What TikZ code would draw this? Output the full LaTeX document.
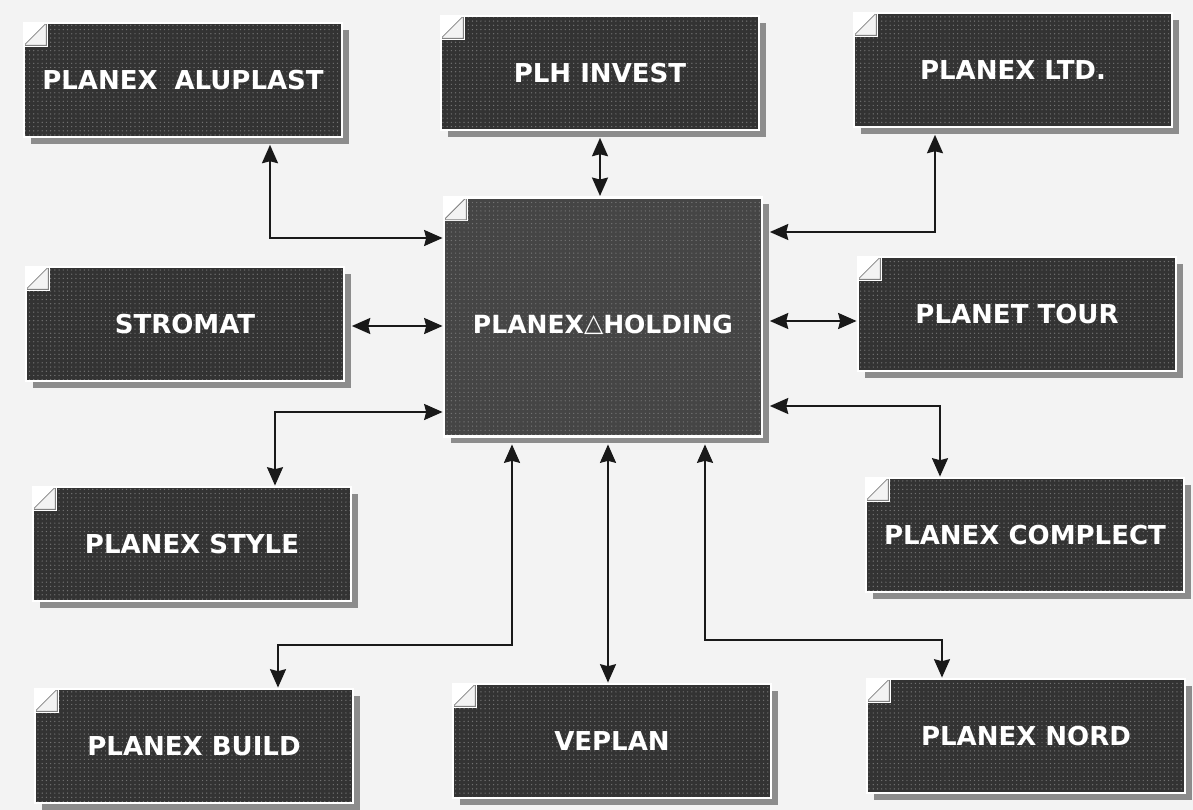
\documentclass[tikz,border=0pt]{standalone}
\usepackage{fontspec}
\setmainfont{DejaVu Sans}
\usetikzlibrary{arrows.meta, shadows, patterns}
\definecolor{paper}{HTML}{F3F3F3}
\definecolor{firmgray}{HTML}{333333}
\definecolor{holdgray}{HTML}{454545}
\tikzset{
  firm/.style={draw=white, line width=0.07cm, fill=firmgray, text=white, minimum width=7.95cm, minimum height=2.85cm,
    font=\fontsize{18.5}{20}\selectfont\bfseries,
    drop shadow={shadow xshift=0.17cm, shadow yshift=-0.17cm, fill=black!45, opacity=1},
    path picture={
      \fill[pattern=dots, pattern color=white!45!black] (path picture bounding box.south west) rectangle (path picture bounding box.north east);
      \fill[white] (path picture bounding box.north west) rectangle ++(0.6cm,-0.6cm);
      \draw[fill=paper, draw=black!50, line width=0.02cm] ([xshift=0.56cm]path picture bounding box.north west)
        -- ([yshift=-0.56cm]path picture bounding box.north west) -- ([shift={(0.56cm,-0.56cm)}]path picture bounding box.north west) -- cycle;
    }},
  hold/.style={firm, fill=holdgray, minimum height=5.98cm, text height=0.85cm, font=\fontsize{17.8}{20}\selectfont\bfseries},
  link/.style={<->, >={Stealth[length=0.46cm,width=0.4cm,inset=0.05cm]}, line width=0.05cm, black!90},
  offshadow/.style={shorten <=0.16cm},
  offshadows/.style={shorten <=0.16cm, shorten >=0.16cm}
}
\begin{document}
\begin{tikzpicture}[x=0.025cm, y=-0.025cm]
  \useasboundingbox (0,0) rectangle (1193,810);
  \fill[paper] (0,0) rectangle (1193,810);

  % Holding in the middle
  \node[hold] (holding) at (603,317) {PLANEX\raisebox{0.05em}{△}HOLDING};

  % Top row
  \node[firm] (aluplast) at (183,80) {PLANEX\hspace{0.3em} ALUPLAST};
  \node[firm] (plh) at (600,73) {PLH INVEST};
  \node[firm] (ltd) at (1013,70) {PLANEX LTD.};

  % Sides
  \node[firm] (stromat) at (185,324) {STROMAT};
  \node[firm] (tour) at (1017,314) {PLANET TOUR};
  \node[firm] (style) at (192,544) {PLANEX STYLE};
  \node[firm] (complect) at (1025,535) {PLANEX COMPLECT};

  % Bottom row
  \node[firm] (build) at (194,746) {PLANEX BUILD};
  \node[firm] (veplan) at (612,741) {VEPLAN};
  \node[firm] (nord) at (1026,736) {PLANEX NORD};

  % Turning points of the lower links
  \coordinate (buildturn) at (512,645);
  \coordinate (nordturn) at (705,640);

  \draw[link, offshadow] (aluplast.south -| 270,0) |- (holding.west |- 0,238);
  \draw[link, offshadow] (plh.south) -- (holding.north -| plh.south);
  \draw[link, offshadows] (ltd.south -| 935,0) |- (holding.east |- 0,232);
  \draw[link, offshadow] (stromat.east |- 0,326) -- (holding.west |- 0,326);
  \draw[link, offshadow] (holding.east |- 0,321) -- (tour.west |- 0,321);
  \draw[link, offshadow] (holding.east |- 0,406) -| (complect.north -| 940,0);
  \draw[link] (holding.west |- 0,412) -| (style.north -| 275,0);
  \draw[link, offshadow] (holding.south -| buildturn) -- (buildturn) -| (build.north -| 278,0);
  \draw[link, offshadow] (holding.south -| 608,0) -- (veplan.north -| 608,0);
  \draw[link, offshadow] (holding.south -| nordturn) -- (nordturn) -| (nord.north -| 942,0);
\end{tikzpicture}
\end{document}
